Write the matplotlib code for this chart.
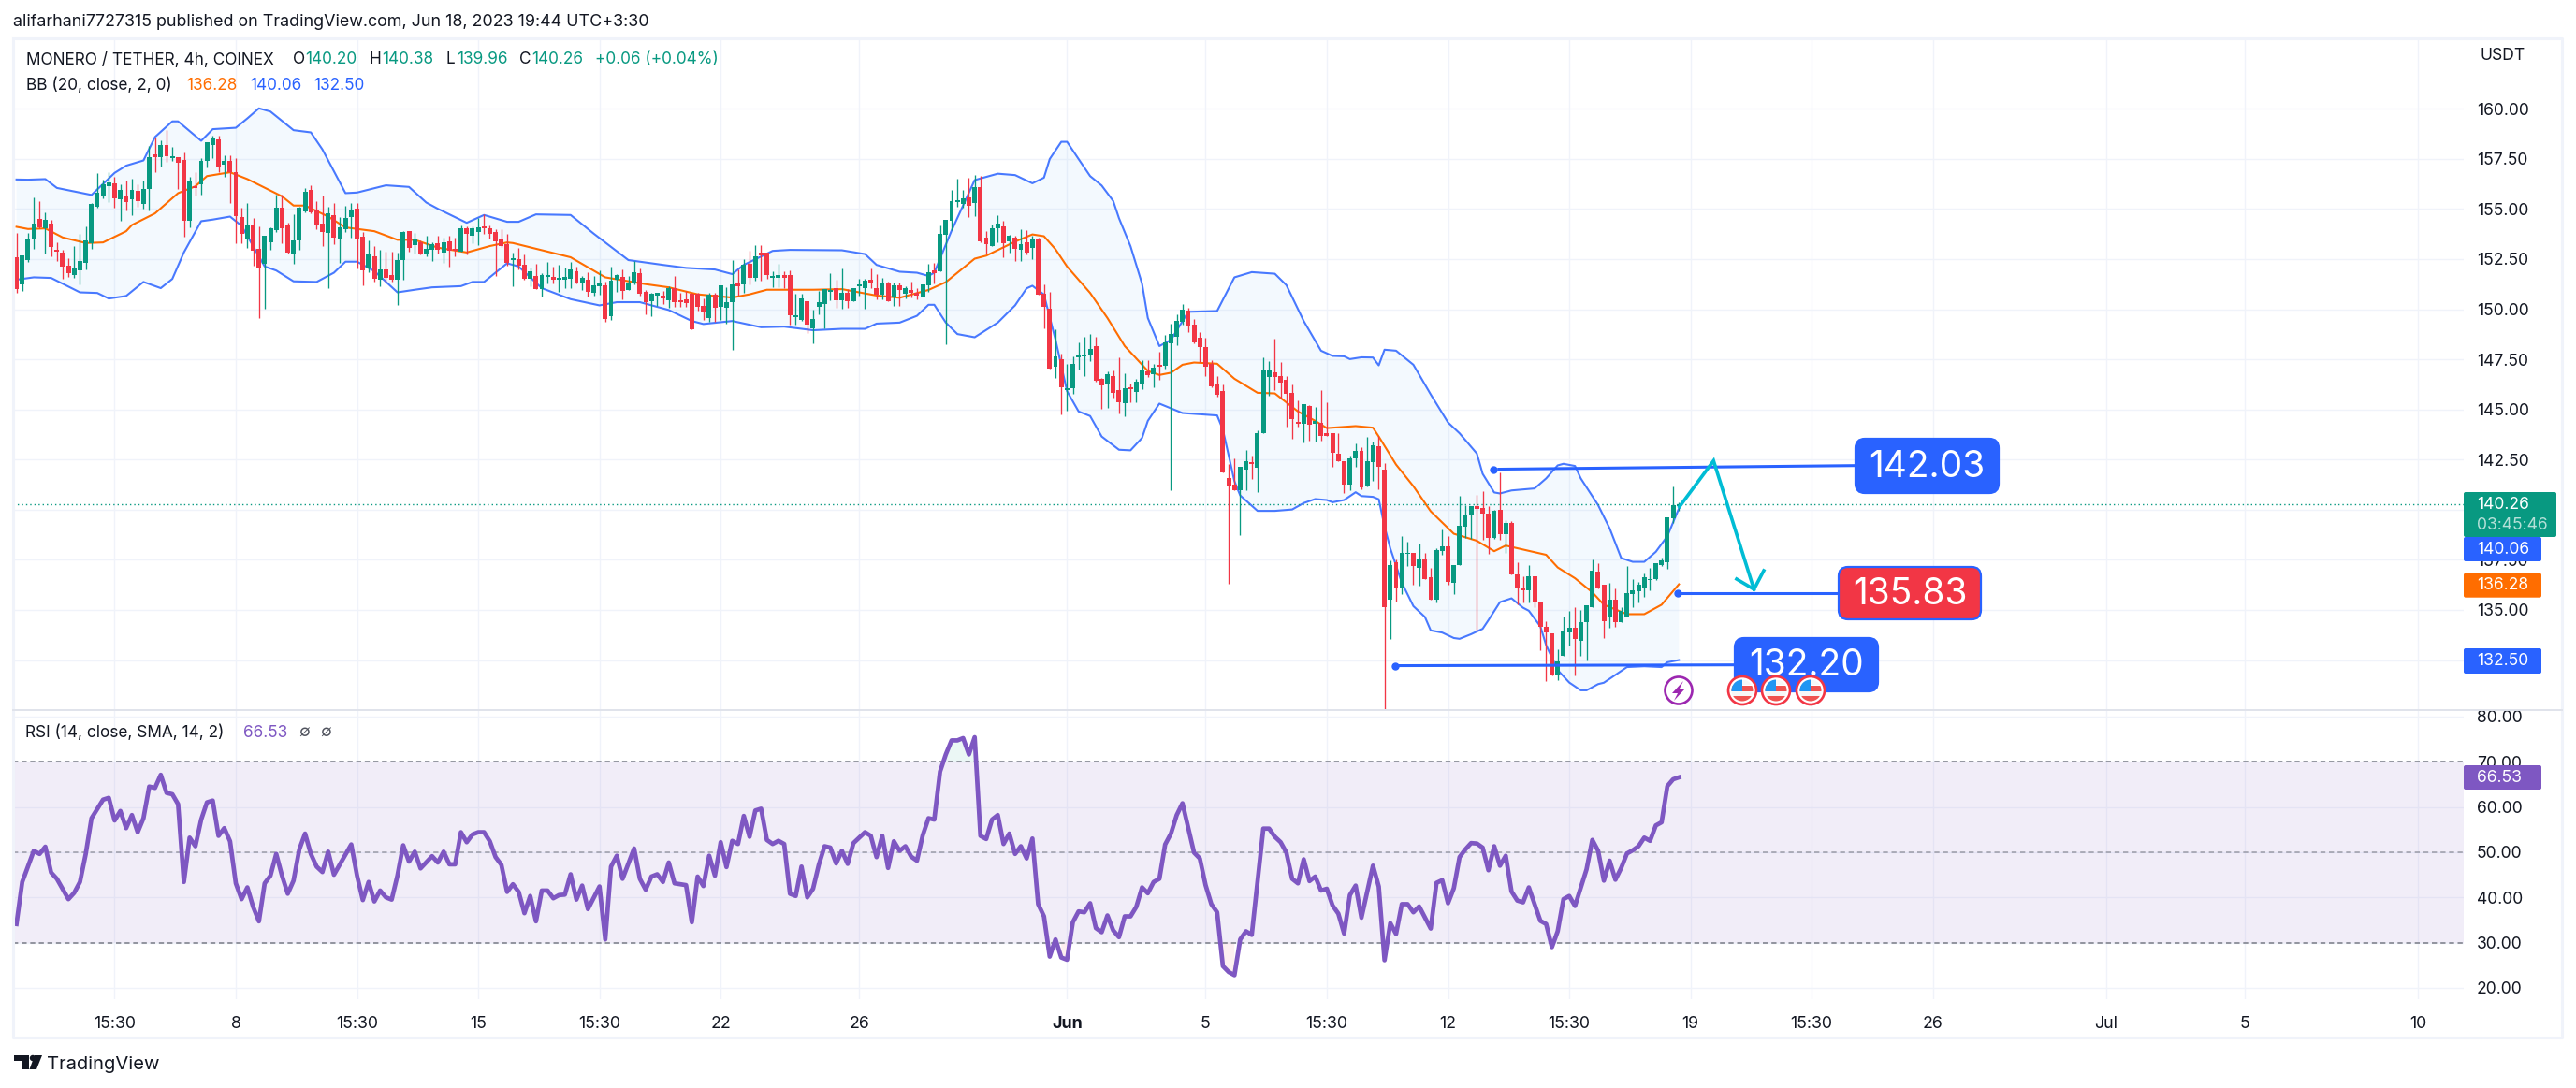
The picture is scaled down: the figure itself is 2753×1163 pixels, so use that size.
import numpy as np
import matplotlib
matplotlib.use("Agg")
import matplotlib.pyplot as plt
from matplotlib.patches import Rectangle, Circle, FancyBboxPatch, Polygon

plt.rcParams['font.family'] = ['Inter', 'DejaVu Sans']

W, H = 2753, 1163
GREEN = '#089981'
RED = '#F23645'
BLUE = '#2962FF'
ORANGE = '#FF6D00'
PURPLE = '#7E57C2'
INK = '#131722'
GRID = '#F0F3FA'

# candles, 4h bars (one row = ten bars)
opens = [
    152.59,151.22,152.44,153.46,154.49,154.03,154.26,152.95,152.81,152.16,
    151.69,151.92,152.30,153.28,155.10,155.61,156.13,156.27,155.47,155.61,
    155.47,155.89,155.24,155.99,157.72,157.58,158.18,157.53,157.58,157.44,
    154.40,156.08,156.22,157.39,158.18,158.47,157.20,157.39,156.83,154.59,
    153.51,154.17,153.00,152.25,153.32,153.93,155.05,154.17,152.72,153.43,
    154.88,155.95,154.97,154.27,153.80,154.69,153.47,153.99,154.59,155.02,
    153.61,152.07,152.63,151.46,151.98,151.70,151.46,152.44,153.89,153.19,
    153.33,152.77,152.96,153.29,152.82,153.38,153.01,152.87,154.03,153.66,
    153.85,154.13,154.03,153.85,153.47,153.24,152.46,152.49,152.21,151.51,
    151.65,150.99,151.60,151.60,151.46,151.46,151.51,151.88,151.32,151.46,
    150.80,151.13,151.17,149.63,151.46,151.60,150.94,151.27,151.78,150.85,
    150.38,150.66,150.66,150.43,151.03,150.38,150.47,150.75,150.75,150.15,
    149.54,150.71,150.10,150.05,150.33,151.32,151.22,152.25,151.55,152.81,
    152.81,151.56,151.55,151.69,151.69,149.60,149.45,150.38,149.03,150.10,
    150.24,150.86,151.03,150.43,150.80,150.38,151.13,151.03,151.46,151.03,
    150.71,151.32,150.61,151.17,150.75,150.94,150.80,150.61,151.17,151.92,
    151.88,153.70,154.41,155.36,155.25,155.57,155.29,156.09,153.56,153.14,
    154.03,154.13,153.38,153.56,152.96,153.33,153.05,153.52,150.76,150.01,
    147.11,147.49,145.96,146.04,147.58,147.64,147.68,148.14,146.51,146.23,
    146.65,145.95,145.29,146.09,145.85,146.27,146.88,146.74,147.21,147.16,
    148.28,148.61,149.36,149.92,149.22,148.56,148.10,147.25,146.23,145.90,
    141.56,141.23,140.99,141.98,142.30,142.07,143.80,146.60,146.84,146.65,
    146.46,145.81,144.36,144.27,145.16,144.27,144.31,143.80,143.80,142.77,
    142.40,141.23,142.54,142.91,141.18,142.35,143.15,141.99,135.53,137.36,
    136.14,137.78,137.83,137.12,137.50,136.61,135.49,137.92,138.15,136.33,
    137.26,139.13,139.69,140.16,140.07,139.79,138.57,139.97,138.76,139.32,
    136.75,136.14,136.00,136.70,135.44,134.18,133.85,131.75,132.73,133.90,
    134.09,133.48,134.37,135.16,136.89,136.24,134.69,135.49,134.37,134.69,
    135.77,135.91,136.14,136.47,136.52,137.22,137.40,139.55,140.20]
highs = [
    153.79,152.67,153.79,155.57,155.38,154.82,154.45,153.32,152.95,152.53,
    153.14,153.74,154.12,155.29,156.78,156.46,156.83,156.60,156.22,156.41,
    156.50,156.22,156.41,158.14,158.56,158.42,158.93,158.09,157.58,157.81,
    156.60,156.83,157.53,158.32,158.65,158.65,157.67,157.67,157.53,155.05,
    155.29,154.54,154.12,153.65,154.07,155.71,155.71,154.31,154.73,155.11,
    156.05,156.20,155.39,155.67,155.11,155.30,154.60,155.16,155.30,155.30,
    153.85,153.43,153.15,152.96,152.87,152.87,152.82,153.89,153.89,153.80,
    153.43,153.66,153.33,153.66,153.57,153.66,153.57,154.17,154.13,154.13,
    154.55,154.74,154.17,153.99,153.99,153.75,152.82,153.05,152.73,152.07,
    152.26,151.79,152.35,152.12,152.21,152.07,152.35,152.11,151.64,151.83,
    151.64,151.92,151.36,152.11,151.74,151.97,151.64,152.39,152.02,150.94,
    150.80,150.80,150.89,151.13,151.64,150.80,150.89,150.80,150.80,150.52,
    150.80,150.80,151.17,151.08,152.44,151.97,152.48,152.90,153.18,153.18,
    152.81,151.88,152.25,151.88,151.92,150.75,150.75,150.38,149.96,150.89,
    150.99,151.78,151.46,152.02,150.99,151.03,151.50,151.50,152.02,151.74,
    151.55,151.36,151.32,151.32,151.13,151.36,151.03,151.22,152.25,152.30,
    154.17,154.45,155.95,156.51,155.95,156.56,156.70,156.65,153.89,154.22,
    154.69,154.41,153.70,153.66,153.98,153.94,153.66,153.56,151.23,150.85,
    148.98,147.77,147.25,147.63,148.36,148.61,148.75,148.61,146.55,146.88,
    146.93,147.58,146.79,146.27,146.51,147.44,147.44,147.25,147.86,148.70,
    149.26,149.73,150.25,150.06,149.50,148.84,148.56,147.44,146.65,146.23,
    142.26,142.58,142.16,142.96,142.68,143.94,147.59,147.40,148.52,147.35,
    146.65,146.23,145.44,145.25,145.20,145.11,145.95,145.34,143.80,143.80,
    142.40,142.72,143.29,143.10,143.61,143.38,143.66,142.31,137.45,137.50,
    138.67,138.39,137.83,138.29,137.83,137.12,138.06,139.00,138.67,137.22,
    140.68,140.21,140.16,140.72,140.91,140.16,139.97,141.84,139.46,139.41,
    137.40,136.66,137.22,136.70,135.44,134.46,133.85,133.06,134.69,134.97,
    135.16,135.02,135.21,137.50,137.31,136.24,136.33,136.05,135.16,137.17,
    136.56,136.38,136.80,137.08,137.31,137.59,139.60,141.14,140.38]
lows = [
    150.80,150.91,152.36,153.01,154.03,152.79,152.62,152.39,151.50,151.59,
    151.55,151.24,151.97,153.00,155.05,155.52,155.33,155.05,154.40,154.91,
    154.68,155.10,155.01,154.91,156.83,157.11,157.34,157.39,155.99,153.60,
    154.07,155.66,155.71,157.06,157.53,156.83,156.60,155.29,153.28,153.28,
    153.04,152.16,149.54,150.01,152.95,153.84,153.28,152.76,152.25,152.96,
    154.84,154.78,153.99,153.15,151.04,153.24,152.30,153.85,153.57,152.02,
    151.18,151.84,151.37,151.14,151.37,151.37,150.20,151.46,152.87,152.77,
    152.73,152.63,152.40,152.77,152.30,152.12,152.63,152.87,152.73,153.29,
    153.19,153.75,153.52,151.65,153.10,152.16,151.14,151.98,151.46,151.14,
    150.99,150.62,151.28,151.28,150.86,151.04,151.04,151.27,150.94,150.61,
    150.66,150.71,149.35,149.45,150.85,150.47,150.94,151.22,150.66,149.73,
    149.63,150.15,150.24,150.05,150.10,150.10,150.10,148.98,149.91,149.45,
    149.35,149.35,149.45,149.26,147.99,150.66,150.80,151.22,151.41,151.41,
    151.50,151.08,151.08,151.03,149.21,149.21,149.40,148.79,148.28,149.73,
    149.03,150.43,150.05,150.01,150.05,150.38,150.66,150.01,151.03,150.47,
    150.47,150.38,150.15,150.15,150.52,150.57,150.47,150.61,150.85,151.27,
    151.88,148.24,153.94,155.11,155.06,154.59,154.64,153.33,152.77,153.14,
    153.33,152.58,152.82,152.40,152.40,152.72,152.49,150.71,149.03,147.02,
    146.55,144.73,144.96,145.76,146.97,146.65,147.39,146.37,145.01,145.06,
    145.57,144.78,144.68,145.34,145.34,145.99,146.60,146.09,146.46,147.02,
    140.98,148.19,149.22,148.84,148.28,147.35,146.65,146.09,145.62,141.84,
    136.32,140.99,138.75,140.99,141.51,140.90,143.80,145.67,145.96,145.53,
    144.13,143.52,144.13,143.33,143.43,143.38,143.43,143.66,142.16,142.40,
    140.81,140.99,142.16,141.04,141.18,141.46,141.04,130.07,133.53,135.44,
    135.77,137.17,136.24,136.19,136.52,135.49,135.39,137.73,136.24,135.77,
    137.26,138.57,138.53,133.99,138.48,137.78,138.53,138.48,137.83,136.75,
    135.30,135.35,135.39,135.16,133.01,131.47,131.75,131.51,132.73,133.24,
    131.75,132.73,132.50,135.16,136.05,133.62,134.13,134.18,134.37,134.69,
    135.16,135.35,135.63,136.00,136.47,137.17,137.03,139.32,139.96]
closes = [
    150.99,152.67,153.51,154.26,154.10,154.45,153.09,152.87,152.11,151.78,
    152.02,152.39,153.42,155.24,155.80,156.22,156.32,155.52,155.94,155.33,
    155.94,155.38,155.99,157.58,157.58,158.18,157.62,157.62,157.30,154.40,
    156.36,156.05,157.39,158.32,158.51,157.06,157.39,156.83,154.63,153.74,
    154.17,152.90,152.02,153.65,154.03,155.05,154.03,152.81,153.42,155.06,
    155.86,154.83,154.17,153.85,154.78,153.57,154.08,154.55,154.97,153.47,
    151.93,152.73,151.51,151.98,151.56,151.46,152.44,153.85,153.05,153.52,
    152.73,153.01,153.24,152.96,153.33,152.91,152.91,154.03,153.75,154.03,
    154.08,154.03,153.75,153.38,153.15,152.30,152.49,152.16,151.51,151.88,
    150.99,151.70,151.70,151.46,151.56,151.60,151.98,151.27,151.55,150.85,
    151.17,151.32,149.49,151.41,151.69,150.89,151.27,151.83,150.75,150.33,
    150.75,150.80,150.52,151.03,150.33,150.35,150.29,148.98,150.10,149.82,
    150.71,150.05,151.17,150.33,151.22,151.13,152.20,151.55,152.62,152.67,
    151.69,151.60,151.69,151.55,149.68,149.63,150.52,149.21,149.49,150.33,
    150.99,150.89,150.43,150.80,150.38,151.03,151.22,151.41,151.27,150.71,
    151.32,150.38,151.17,150.94,151.03,150.80,150.66,151.22,151.83,151.78,
    153.75,154.45,155.39,155.39,155.53,155.15,156.09,153.38,153.24,154.03,
    154.27,153.28,153.66,153.00,153.24,152.82,153.47,150.71,150.11,147.02,
    147.63,146.09,145.99,147.25,147.72,147.68,148.00,146.41,146.18,146.74,
    145.81,145.34,146.04,145.99,146.37,146.97,146.69,147.07,147.11,148.33,
    148.75,149.40,149.97,149.17,148.33,148.10,147.11,146.13,145.72,141.84,
    141.18,140.99,142.12,142.40,142.27,143.80,146.98,146.98,146.60,146.32,
    145.76,144.50,144.27,145.25,144.22,144.41,143.66,143.66,142.86,142.40,
    141.23,142.54,142.91,141.09,142.40,143.19,142.12,135.16,137.22,136.10,
    137.83,137.83,137.17,137.50,136.56,135.49,137.97,138.15,136.38,137.22,
    139.18,139.74,140.16,140.02,139.79,138.57,139.93,138.76,139.32,136.75,
    136.10,136.00,136.70,135.39,134.18,133.90,131.75,132.45,133.95,134.13,
    133.53,134.41,135.21,136.94,136.14,134.46,135.49,134.37,134.93,135.82,
    135.96,136.24,136.61,136.56,137.31,137.45,139.60,140.21,140.26]

# bollinger bands, vertices
bb_up_bars = [0,2,5,7,13,17,19,22,24,27,28,32,34,38,40,42,44,48,51,53,57,59,64,68,71,73,78,81,85,87,90,96,100,106,112,116,121,124,126,131,134,143,147,149,153,156,158,159,162,166,170,173,176,178,179,181,182,184,186,188,190,191,193,195,196,198,200,203,208,211,214,218,220,223,226,228,230,231,233,235,236,237,239,242,245,248,250,253,254,256,257,259,263,265,267,268,270,271,274,276,278,280,282,284,286,288]
bb_up = [156.47,156.46,156.49,156.05,155.70,156.80,157.16,157.42,158.59,159.37,159.37,158.40,158.98,159.05,159.52,160.02,159.86,158.93,158.82,157.97,155.79,155.82,156.18,156.10,155.32,155.01,154.31,154.70,154.36,154.36,154.73,154.70,153.77,152.45,152.21,152.06,151.98,151.75,152.21,152.91,152.96,152.94,152.75,152.21,151.87,151.82,151.66,151.82,153.92,156.44,156.76,156.69,156.28,156.56,157.49,158.35,158.35,157.49,156.64,156.17,155.40,154.54,153.14,151.27,149.56,148.16,148.47,149.87,149.91,151.59,151.85,151.77,151.20,149.41,147.93,147.67,147.65,147.51,147.60,147.59,147.20,147.98,147.93,147.23,145.75,144.35,143.81,142.80,141.79,140.86,140.81,140.96,141.06,141.56,142.21,142.29,142.18,141.56,140.23,139.07,137.59,137.40,137.40,137.90,138.68,140.06]
bb_mid_bars = [0,2,5,8,12,15,19,20,24,28,31,33,37,40,46,48,50,54,57,62,66,69,73,78,82,85,86,96,102,109,113,118,124,127,130,138,143,149,153,158,161,166,168,173,176,178,180,182,186,189,192,196,198,200,202,204,208,211,215,218,222,225,227,232,235,236,239,242,245,249,253,256,258,265,267,270,273,275,279,282,285,288]
bb_mid = [154.11,154.00,154.03,153.58,153.30,153.33,153.89,154.20,154.78,155.79,156.13,156.64,156.83,156.49,155.63,155.17,155.17,154.62,154.08,153.89,153.46,153.46,153.07,152.83,153.15,153.33,153.30,152.59,151.59,151.25,151.09,150.74,150.58,150.74,150.97,150.97,151.00,150.68,150.57,150.96,151.35,152.52,152.67,153.37,153.73,153.64,152.99,152.13,150.81,149.56,148.16,146.92,146.72,146.83,147.23,147.34,147.28,146.53,145.83,145.80,144.90,144.43,144.07,144.17,144.09,143.65,142.25,141.17,139.92,138.80,138.45,137.93,138.21,137.75,137.12,136.58,135.88,135.26,134.79,134.79,135.26,136.28]
bb_low_bars = [0,3,6,11,14,16,19,22,25,27,29,32,34,37,39,43,45,48,52,55,57,59,62,66,69,72,77,79,81,85,87,91,96,101,104,108,113,117,119,124,129,133,138,143,147,149,153,156,158,159,161,163,166,170,173,175,176,178,180,182,184,186,188,191,193,195,196,198,202,208,209,211,212,215,218,221,223,225,227,228,230,232,233,235,236,237,238,240,242,244,245,247,249,250,252,254,255,257,259,261,262,264,265,267,269,271,272,274,275,277,279,282,285,286,288]
bb_low = [151.47,151.59,151.56,150.84,150.81,150.53,150.66,151.36,151.05,151.51,152.83,154.39,154.47,154.62,154.16,152.13,151.93,151.39,151.36,151.82,152.37,152.37,151.90,150.84,150.97,151.09,151.15,151.36,151.36,152.29,152.13,151.05,150.50,150.19,150.35,150.35,149.96,149.41,149.26,149.41,149.10,149.13,148.95,149.02,149.02,149.28,149.33,149.67,150.22,150.22,149.33,148.76,148.60,149.33,150.19,151.04,151.17,150.73,148.48,145.91,144.90,144.67,143.65,142.99,142.96,143.58,144.43,145.29,144.82,144.70,143.99,141.42,140.71,139.94,139.94,140.01,140.33,140.53,140.48,140.37,140.48,140.87,140.68,140.64,140.52,139.17,138.07,136.36,135.19,134.65,133.98,133.87,133.60,133.56,133.79,134.06,134.49,135.39,135.58,135.11,134.96,134.18,133.24,132.00,131.38,130.99,130.99,131.30,131.37,131.76,132.15,132.19,132.15,132.39,132.50]

# RSI vertices
rsi_bars = [0,1,3,4,5,6,7,9,10,11,12,13,15,16,17,18,19,20,21,22,23,24,25,26,27,28,29,30,31,32,33,34,35,36,37,38,39,40,41,42,43,44,45,46,47,48,49,50,51,52,53,54,55,58,59,60,61,62,63,64,65,66,67,68,69,70,72,73,74,75,76,77,78,79,80,81,82,83,84,85,86,87,88,89,90,91,92,93,94,95,96,97,98,99,101,102,103,104,105,107,108,109,110,111,112,113,114,115,116,117,118,119,120,121,122,123,124,125,126,127,128,129,130,131,132,133,134,135,136,137,138,139,140,141,142,143,144,145,147,148,149,150,151,152,153,154,155,156,157,158,159,
            160,161,162,163,164,165,166,167,168,169,170,171,172,173,174,175,176,177,178,179,180,181,182,183,184,185,186,187,188,189,190,191,192,193,194,195,196,197,198,199,200,201,202,204,205,206,207,208,209,210,211,212,213,214,216,217,218,219,220,221,222,223,224,225,226,227,228,229,230,231,232,233,235,236,237,238,239,240,241,242,243,245,246,247,248,249,250,251,252,253,254,255,256,257,258,259,260,261,262,264,265,266,267,268,269,270,272,273,274,275,276,277,278,279,280,281,282,283,284,285,286,287,288]
rsi_vals = [34.1,43.4,50.3,49.6,51.2,45.5,44.1,39.6,41.0,43.4,49.6,57.5,61.6,62.0,57.0,59.1,55.3,58.2,54.4,57.5,64.5,64.2,67.1,63.1,62.8,60.6,43.4,53.2,51.3,57.2,61.0,61.4,53.6,55.3,52.4,43.1,39.6,42.2,37.9,34.7,43.1,44.8,49.6,44.8,40.8,43.7,50.6,54.1,49.6,46.8,45.6,50.1,45.0,51.7,44.8,39.4,43.4,39.1,41.5,40.0,39.5,44.8,51.5,47.9,50.1,46.4,49.1,47.7,50.1,47.3,47.3,54.4,52.2,53.9,54.4,54.4,52.4,48.9,47.2,41.2,42.9,41.2,36.5,40.3,34.7,41.5,41.5,39.8,40.5,40.6,45.1,39.5,42.6,37.4,42.4,30.7,46.8,49.2,44.1,50.8,44.1,41.7,44.6,45.1,43.4,47.7,43.1,42.9,42.7,34.5,44.6,42.5,49.2,44.8,52.2,46.7,52.5,51.8,58.0,53.4,59.2,59.6,52.7,51.8,52.5,51.8,40.8,40.3,46.8,40.0,41.9,47.2,51.3,51.0,47.5,50.3,47.4,52.0,54.4,53.6,48.9,53.6,46.5,52.4,50.3,51.3,49.0,48.1,53.7,57.5,57.2,
            67.8,71.6,74.7,74.7,75.2,71.6,75.4,53.6,52.9,57.2,58.2,51.8,54.1,49.6,51.3,48.6,53.0,38.5,35.8,26.9,30.7,26.7,26.2,34.5,36.9,36.7,38.7,33.2,32.3,36.0,32.7,31.2,35.8,35.8,37.9,42.2,40.9,43.4,44.1,51.7,54.1,58.2,60.8,49.9,48.6,42.7,38.5,36.7,24.8,23.5,22.8,30.7,32.5,31.7,55.2,55.2,53.4,52.2,49.9,44.1,43.1,48.4,43.6,44.6,41.5,41.9,38.2,36.4,32.0,40.5,42.6,35.5,47.0,42.4,26.1,34.3,31.9,38.5,38.5,36.7,38.0,33.1,43.2,43.8,38.7,42.0,48.9,50.6,52.0,51.9,51.0,46.0,51.3,47.0,49.2,41.3,39.3,38.9,42.2,34.8,34.1,29.0,32.5,39.6,40.3,38.1,46.2,52.7,50.3,43.7,48.1,43.9,46.5,49.7,50.4,51.3,53.2,52.5,55.9,56.6,64.6,66.1,66.53]

# axis ticks
tick_bars = [17,38,59,80,101,122,146,182,206,227,248,269,290,311,332,362,386,416]
tick_names = ['15:30','8','15:30','15','15:30','22','26','Jun','5','15:30','12','15:30','19','15:30','26','Jul','5','10']
price_ticks = [160,157.5,155,152.5,150,147.5,145,142.5,140,137.5,135,132.5]
rsi_ticks = [80,70,60,50,40,30,20]

# last values
last_close = 140.26
bar_gap = 6.169
bar0_px = 17.6


def px_rect(l, t, r, b):
    return [l / W, 1 - b / H, (r - l) / W, (b - t) / H]


fig = plt.figure(figsize=(W / 100, H / 100), dpi=100, facecolor='white')
ax = fig.add_axes(px_rect(14, 41, 2633, 758.7))
ax2 = fig.add_axes(px_rect(14, 760, 2633, 1068))

xlim = ((14 - bar0_px) / bar_gap, (2633 - bar0_px) / bar_gap)
for a in (ax, ax2):
    a.set_xlim(*xlim)
    for s in a.spines.values():
        s.set_visible(False)
    a.set_xticks(tick_bars)
    a.grid(True, color=GRID, lw=1.0, zorder=0)
    a.set_axisbelow(True)
    a.yaxis.tick_right()
    a.tick_params(axis='y', length=0, pad=10, labelsize=12.6, labelcolor=INK)
    a.tick_params(axis='x', length=0, pad=13, labelsize=12.8, labelcolor=INK)

ax.set_ylim(130.02, 163.51)
ax.set_yticks(price_ticks)
ax.set_yticklabels(['%.2f' % v for v in price_ticks])
ax.tick_params(axis='x', labelbottom=False)

ax2.set_ylim(17.5, 81.2)
ax2.set_yticks(rsi_ticks)
ax2.set_yticklabels(['%.2f' % v for v in rsi_ticks])
ax2.set_xticklabels(tick_names)
for lab in ax2.get_xticklabels():
    if lab.get_text() == 'Jun':
        lab.set_fontweight('bold')

# bollinger fill then lines
ax.fill(np.r_[bb_up_bars, bb_low_bars[::-1]], np.r_[bb_up, bb_low[::-1]], color='#2196F3', alpha=0.05, lw=0, zorder=1)
ax.plot(bb_up_bars, bb_up, color=BLUE, lw=1.5, alpha=0.85, zorder=2)
ax.plot(bb_low_bars, bb_low, color=BLUE, lw=1.5, alpha=0.85, zorder=2)
ax.plot(bb_mid_bars, bb_mid, color=ORANGE, lw=1.5, zorder=2)

# candles
bars = np.arange(len(closes))
o = np.array(opens)
c = np.array(closes)
colors = [GREEN if c[i] >= o[i] else RED for i in bars]
ax.vlines(bars, lows, highs, colors=colors, lw=0.95, zorder=3)
body = np.maximum(np.abs(c - o), 0.08)
ax.bar(bars, body, bottom=np.minimum(o, c), width=0.8, color=colors, lw=0, zorder=4)

ax.axhline(last_close, color=GREEN, lw=1.0, ls=(0, (1, 2.2)), zorder=2)

# drawn levels
ax.plot([256.8, 318.6], [142.02, 142.20], color=BLUE, lw=2.2, zorder=5)
ax.plot([287.8, 315.7], [135.86, 135.86], color=BLUE, lw=2.2, zorder=5)
ax.plot([238.8, 297.7], [132.22, 132.26], color=BLUE, lw=2.2, zorder=5)
ax.plot([255.8, 287.8, 238.8], [142.02, 135.86, 132.22], 'o', color=BLUE, ms=5, lw=0, zorder=5)
ax.plot([288.1, 294, 301], [140.15, 142.44, 136.03], color='#00BCD4', lw=2.6, zorder=6, solid_joinstyle='miter')
ax.plot([298, 301, 302.7], [136.54, 136.03, 136.96], color='#00BCD4', lw=2.6, zorder=6, solid_joinstyle='miter')

# rsi pane
ax2.axhspan(30, 70, color=PURPLE, alpha=0.1, lw=0, zorder=1)
for lev, al in ((70, 1), (50, 0.7), (30, 1)):
    ax2.axhline(lev, color='#787B86', lw=1.1, ls=(0, (3.5, 2.5)), alpha=al, zorder=2)
ax2.plot(rsi_bars, rsi_vals, color=PURPLE, lw=3.4, zorder=4)
rb = np.array(rsi_bars)
rv = np.array(rsi_vals)
ax2.fill_between(rb, 70, rv, where=rv > 70, color=GREEN, alpha=0.08, lw=0, zorder=1)
ax2.fill_between(rb, 30, rv, where=rv < 30, color=RED, alpha=0.08, lw=0, zorder=1)

# overlay in pixels for frame, labels and boxes
ov = fig.add_axes([0, 0, 1, 1])
ov.set_xlim(0, W)
ov.set_ylim(H, 0)
ov.axis('off')
ov.patch.set_alpha(0)

frame = '#F0F3FA'
ov.plot([14, 2738, 2738, 14, 14], [41, 41, 1109, 1109, 41], color=frame, lw=2.2)
ov.plot([14, 2738], [758.7, 758.7], color='#E0E3EB', lw=1.4)

TXT = 12.4


def label(x, y, s, color=INK, size=TXT, **kw):
    kw.setdefault('ha', 'left')
    ov.text(x, y, s, color=color, fontsize=size, va='center', **kw)


label(14, 24, 'alifarhani7727315 published on TradingView.com, Jun 18, 2023 19:44 UTC+3:30', size=12.9)
label(27.5, 64, 'MONERO / TETHER, 4h, COINEX')
for x, s, col in [(313, 'O', INK), (326, '140.20', GREEN), (394, 'H', INK), (408, '140.38', GREEN),
                  (476.5, 'L', INK), (488, '139.96', GREEN), (555, 'C', INK), (568, '140.26', GREEN),
                  (635.5, '+0.06 (+0.04%)', GREEN)]:
    label(x, 64, s, col)
label(27.5, 91, 'BB (20, close, 2, 0)')
label(199, 91, '136.28', ORANGE)
label(267.5, 91, '140.06', BLUE)
label(334.7, 91, '132.50', BLUE)
label(27, 783, 'RSI (14, close, SMA, 14, 2)')
label(260, 783, '66.53', PURPLE)
label(319, 783, '∅', '#50535E')
label(342, 783, '∅', '#50535E')
label(2650, 60, 'USDT', size=12.6)


# right scale tags
def tag(t, b, r, col):
    ov.add_patch(FancyBboxPatch((2633, t), r - 2633, b - t, boxstyle='round,pad=0,rounding_size=2', fc=col, ec='none', zorder=5))


def tag_text(y, s, col='white'):
    ov.text(2647, y, s, color=col, fontsize=12.6, va='center', zorder=6)


tag(526, 574, 2732, GREEN)
tag_text(539, '140.26')
tag_text(561, '03:45:46', '#B5E0D8')
tag(574, 600, 2716, BLUE)
tag_text(587, '140.06')
tag(612.6, 638.7, 2716, ORANGE)
tag_text(625.6, '136.28')
tag(693, 720, 2716, BLUE)
tag_text(706.5, '132.50')
tag(818, 844, 2716, PURPLE)
tag_text(831, '66.53')


# price callouts
def callout(l, t, r, b, s, fc):
    ov.add_patch(FancyBboxPatch((l, t), r - l, b - t, boxstyle='round,pad=0,rounding_size=10', fc=fc, ec=BLUE, lw=1.6, zorder=3))
    ov.text((l + r) / 2, (t + b) / 2 + 1, s, color='white', fontsize=28, ha='center', va='center', zorder=4)


callout(1983, 469, 2136, 527, '142.03', BLUE)
callout(1965, 606, 2117, 662, '135.83', RED)
callout(1854, 682, 2007, 739, '132.20', BLUE)

# event icons
bolt = Circle((1794, 738), 14.5, fc='white', ec='#9C27B0', lw=1.9, zorder=7)
ov.add_patch(bolt)
ov.add_patch(Polygon([(1799, 728), (1787, 741), (1793, 741), (1789, 749), (1801, 736), (1795, 736)], fc='#9C27B0', ec='none', zorder=8))
for x in (1862, 1898, 1935):
    ring = Circle((x, 738), 15, fc='white', ec=RED, lw=1.9, zorder=7)
    ov.add_patch(ring)
    clip = Circle((x, 738), 11.5, transform=ov.transData)
    for rect, col in [(((x - 12, 727), 24, 5), '#F7F7F7'), (((x - 12, 733), 24, 6), '#EF5350'),
                      (((x - 12, 739), 24, 5), '#F7F7F7'), (((x - 12, 744), 24, 6), '#EF5350'),
                      (((x - 12, 726), 12, 13), '#2196F3')]:
        p = Rectangle(rect[0], rect[1], rect[2], fc=col, ec='none', zorder=8)
        ov.add_patch(p)
        p.set_clip_path(clip)

# footer logo
ov.add_patch(Polygon([(15, 1128), (31, 1128), (31, 1143), (23, 1143), (23, 1134), (15, 1134)], fc=INK, ec='none'))
ov.add_patch(Circle((35, 1131), 3.2, fc=INK, ec='none'))
ov.add_patch(Polygon([(37, 1128), (45, 1128), (39, 1143), (31.5, 1143)], fc=INK, ec='none'))
label(50, 1138, 'TradingView', size=14.5)

fig.savefig('out.png', dpi=100, facecolor='white')
